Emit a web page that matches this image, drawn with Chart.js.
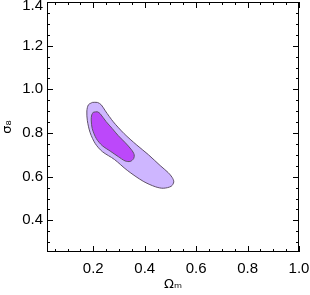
<!DOCTYPE html>
<html>
<head>
<meta charset="utf-8">
<script src="https://cdn.jsdelivr.net/npm/chart.js@4/dist/chart.umd.min.js"></script>
<style>
html,body{margin:0;padding:0;background:#fff;}
#wrap{width:310px;height:295px;position:relative;}
</style>
</head>
<body>
<div id="wrap"><canvas id="c"></canvas></div>
<script>
// Data (Omega_m vs sigma_8 confidence contours)
const outerOmega = [0.196,0.216,0.231,0.247,0.278,0.320,0.367,0.414,0.460,0.491,0.507,0.513,0.503,0.472,0.441,0.394,0.332,0.282,0.235,0.208,0.188,0.177,0.175,0.181,0.196];
const outerSigma = [0.940,0.940,0.929,0.901,0.851,0.797,0.747,0.701,0.651,0.619,0.596,0.576,0.556,0.547,0.554,0.579,0.629,0.679,0.715,0.751,0.801,0.856,0.901,0.929,0.940];
const innerOmega = [0.200,0.216,0.227,0.250,0.274,0.297,0.324,0.348,0.359,0.357,0.344,0.324,0.297,0.266,0.235,0.212,0.196,0.192,0.194,0.200];
const innerSigma = [0.895,0.897,0.888,0.852,0.820,0.788,0.756,0.724,0.701,0.683,0.670,0.672,0.692,0.717,0.742,0.774,0.820,0.860,0.883,0.895];
const xTicks = [0.2,0.4,0.6,0.8,1.0];
const yTicks = [0.4,0.6,0.8,1.0,1.2,1.4];
const xMinorStep = 0.05;
const yMinorStep = 0.05;

const toPts = (xs, ys) => xs.map((x, i) => ({x: x, y: ys[i]}));

const framePlugin = {
  id: 'frameTicks',
  afterDraw(chart) {
    const {ctx, chartArea: a, scales: {x, y}} = chart;
    ctx.save();
    ctx.strokeStyle = '#000';
    ctx.lineWidth = 1;
    ctx.strokeRect(a.left + 0.5, a.top + 0.5, a.right - a.left - 1, a.bottom - a.top - 1);
    ctx.beginPath();
    const isMajor = (v, arr) => arr.some(t => Math.abs(t - v) < 1e-6);
    for (let k = 0; ; k++) {
      const v = Math.round(k * xMinorStep * 1000) / 1000;
      if (v > x.max + 1e-9) break;
      if (v < x.min) continue;
      const px = Math.round(x.getPixelForValue(v)) + 0.5;
      const len = isMajor(v, xTicks) ? 6 : 3;
      ctx.moveTo(px, a.bottom); ctx.lineTo(px, a.bottom - len);
      ctx.moveTo(px, a.top); ctx.lineTo(px, a.top + len);
    }
    for (let k = 0; ; k++) {
      const v = Math.round(k * yMinorStep * 1000) / 1000;
      if (v > y.max + 1e-9) break;
      if (v < y.min) continue;
      const py = Math.round(y.getPixelForValue(v)) + 0.5;
      const len = isMajor(v, yTicks) ? 6 : 3;
      ctx.moveTo(a.left, py); ctx.lineTo(a.left + len, py);
      ctx.moveTo(a.right, py); ctx.lineTo(a.right - len, py);
    }
    ctx.stroke();
    ctx.restore();
  }
};

const tickFont = {family: '"Liberation Sans", Arial, sans-serif', size: 15};
const topY = yTicks[yTicks.length - 1];

new Chart(document.getElementById('c'), {
  type: 'scatter',
  data: {
    datasets: [
      {
        label: 'inner',
        data: toPts(innerOmega, innerSigma),
        showLine: true,
        fill: 'shape',
        backgroundColor: 'rgb(188,72,250)',
        borderColor: 'rgb(95,80,105)',
        borderWidth: 1,
        pointRadius: 0,
        tension: 0.3
      },
      {
        label: 'outer',
        data: toPts(outerOmega, outerSigma),
        showLine: true,
        fill: 'shape',
        backgroundColor: 'rgb(206,182,255)',
        borderColor: 'rgb(95,80,105)',
        borderWidth: 1,
        pointRadius: 0,
        tension: 0.3
      }
    ]
  },
  options: {
    responsive: true,
    maintainAspectRatio: false,
    animation: false,
    layout: {padding: {top: 2, right: 11, left: 0, bottom: 0}},
    plugins: {legend: {display: false}, tooltip: {enabled: false}},
    scales: {
      x: {
        type: 'linear',
        min: 0.02, max: 1.0,
        grid: {display: false, drawTicks: false},
        border: {display: false},
        afterBuildTicks: s => { s.ticks = xTicks.map(v => ({value: v})); },
        ticks: {color: '#000', font: tickFont, padding: 8, maxRotation: 0,
          callback: v => v.toFixed(1)},
        title: {display: true, text: 'Ωₘ', color: '#000',
          font: {family: '"DejaVu Sans", sans-serif', size: 13}, padding: {top: 0, bottom: 3}},
        afterFit: s => { s.height = 43; s.paddingLeft = 0; s.paddingRight = 0; }
      },
      y: {
        type: 'linear',
        min: 0.255, max: 1.4,
        grid: {display: false, drawTicks: false},
        border: {display: false},
        afterBuildTicks: s => { s.ticks = yTicks.map(v => ({value: v})); },
        ticks: {color: '#000', padding: 4,
          font: c => (c.tick && Math.abs(c.tick.value - topY) < 1e-6)
            ? {family: tickFont.family, size: 15, lineHeight: 0.5}
            : tickFont,
          callback: v => Math.abs(v - topY) < 1e-6 ? ['', v.toFixed(1)] : v.toFixed(1)},
        title: {display: true, text: 'σ₈', color: '#000',
          font: {family: '"DejaVu Sans", sans-serif', size: 13}, padding: 0},
        afterFit: s => { s.width = 47; s.paddingTop = 0; s.paddingBottom = 0; }
      }
    }
  },
  plugins: [framePlugin]
});
</script>
</body>
</html>
